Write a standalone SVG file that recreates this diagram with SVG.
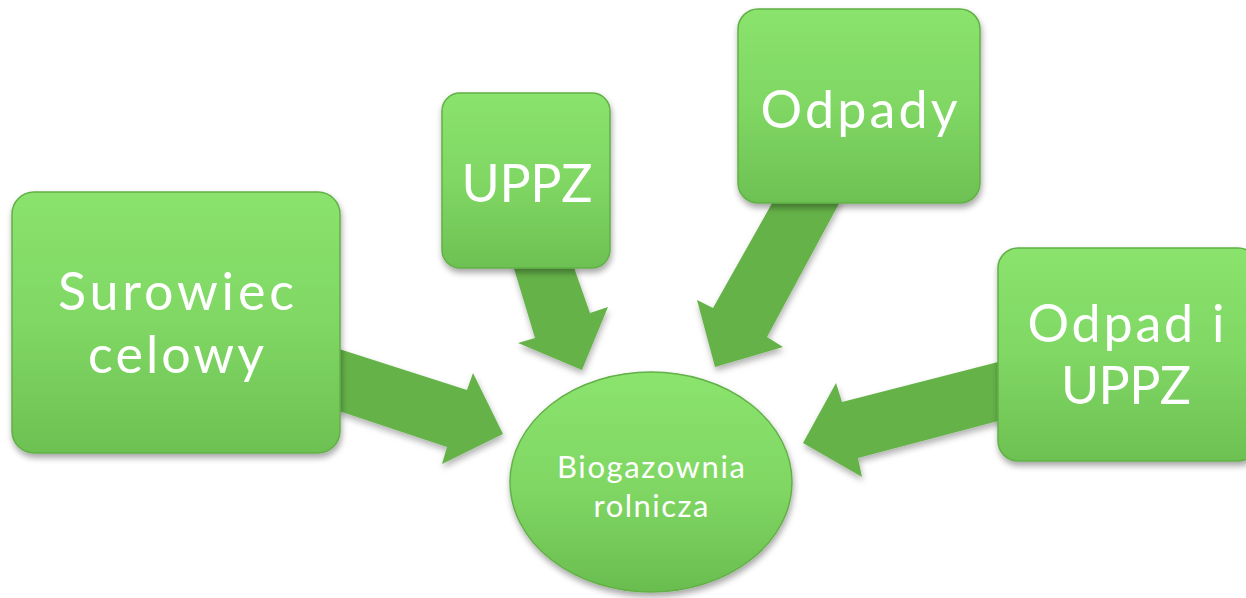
<svg xmlns="http://www.w3.org/2000/svg" width="1246" height="598" viewBox="0 0 1246 598">
  <defs>
    <linearGradient id="boxFill" x1="0" y1="0" x2="0" y2="1">
      <stop offset="0" stop-color="#8ae36d"/>
      <stop offset="0.5" stop-color="#80d764"/>
      <stop offset="1" stop-color="#6dc152"/>
    </linearGradient>
    <linearGradient id="ellFill" x1="0" y1="0" x2="0" y2="1">
      <stop offset="0" stop-color="#8be46e"/>
      <stop offset="0.55" stop-color="#7fd663"/>
      <stop offset="1" stop-color="#6abd4f"/>
    </linearGradient>
    <filter id="shadow" x="-20%" y="-20%" width="140%" height="140%">
      <feDropShadow dx="1" dy="4" stdDeviation="3" flood-color="#000" flood-opacity="0.35"/>
    </filter>
    <filter id="arrowShadow" x="-20%" y="-20%" width="140%" height="140%">
      <feDropShadow dx="1" dy="4" stdDeviation="3" flood-color="#000" flood-opacity="0.3"/>
    </filter>
  </defs>
  <style>
    .box { fill: url(#boxFill); stroke: #62b047; stroke-width: 1.5; filter: url(#shadow); }
    .ell { fill: url(#ellFill); stroke: #63b048; stroke-width: 1.5; filter: url(#shadow); }
    .arrow { fill: #65b24a; filter: url(#arrowShadow); }
    .big { font-family: Lato, "Open Sans", sans-serif; font-size: 52px; fill: #ffffff; text-anchor: middle; }
    .small { font-family: Lato, "Open Sans", sans-serif; font-size: 31px; fill: #ffffff; text-anchor: middle; }
  </style>
  <rect width="1246" height="598" fill="#ffffff"/>

  <g id="connectors">
    <polygon class="arrow" points="336,348 467,390 473,373 503,434 442,464 447,447 336,410"/>
    <polygon class="arrow" points="512,262 535,338 518,343 582,370 608,307 590,313 572,262"/>
    <polygon class="arrow" points="775,198 713,308 697,300 715,367 783,347 767,337 842,198"/>
    <polygon class="arrow" points="1002,361 842,402 836,383 803,443 862,477 858,458 1002,420"/>
  </g>

  <g id="node-surowiec">
    <rect class="box" x="12" y="192" width="328" height="261" rx="22"/>
    <text class="big" x="176" y="310" textLength="236" lengthAdjust="spacing">Surowiec</text>
    <text class="big" x="176" y="373" textLength="176" lengthAdjust="spacing">celowy</text>
  </g>

  <g id="node-uppz">
    <rect class="box" x="442" y="93" width="168" height="175" rx="18"/>
    <text class="big" x="527" y="202" textLength="131" lengthAdjust="spacing">UPPZ</text>
  </g>

  <g id="node-odpady">
    <rect class="box" x="738" y="9" width="242" height="194" rx="20"/>
    <text class="big" x="859" y="128" textLength="197" lengthAdjust="spacing">Odpady</text>
  </g>

  <g id="node-odpad-uppz">
    <rect class="box" x="998" y="248" width="260" height="213" rx="20"/>
    <text class="big" x="1126" y="342" textLength="197" lengthAdjust="spacing">Odpad i</text>
    <text class="big" x="1126" y="404" textLength="130" lengthAdjust="spacing">UPPZ</text>
  </g>

  <g id="node-biogazownia">
    <ellipse class="ell" cx="651" cy="482" rx="141" ry="110"/>
    <text class="small" x="651" y="478" textLength="188" lengthAdjust="spacing">Biogazownia</text>
    <text class="small" x="651" y="517" textLength="115" lengthAdjust="spacing">rolnicza</text>
  </g>
</svg>
